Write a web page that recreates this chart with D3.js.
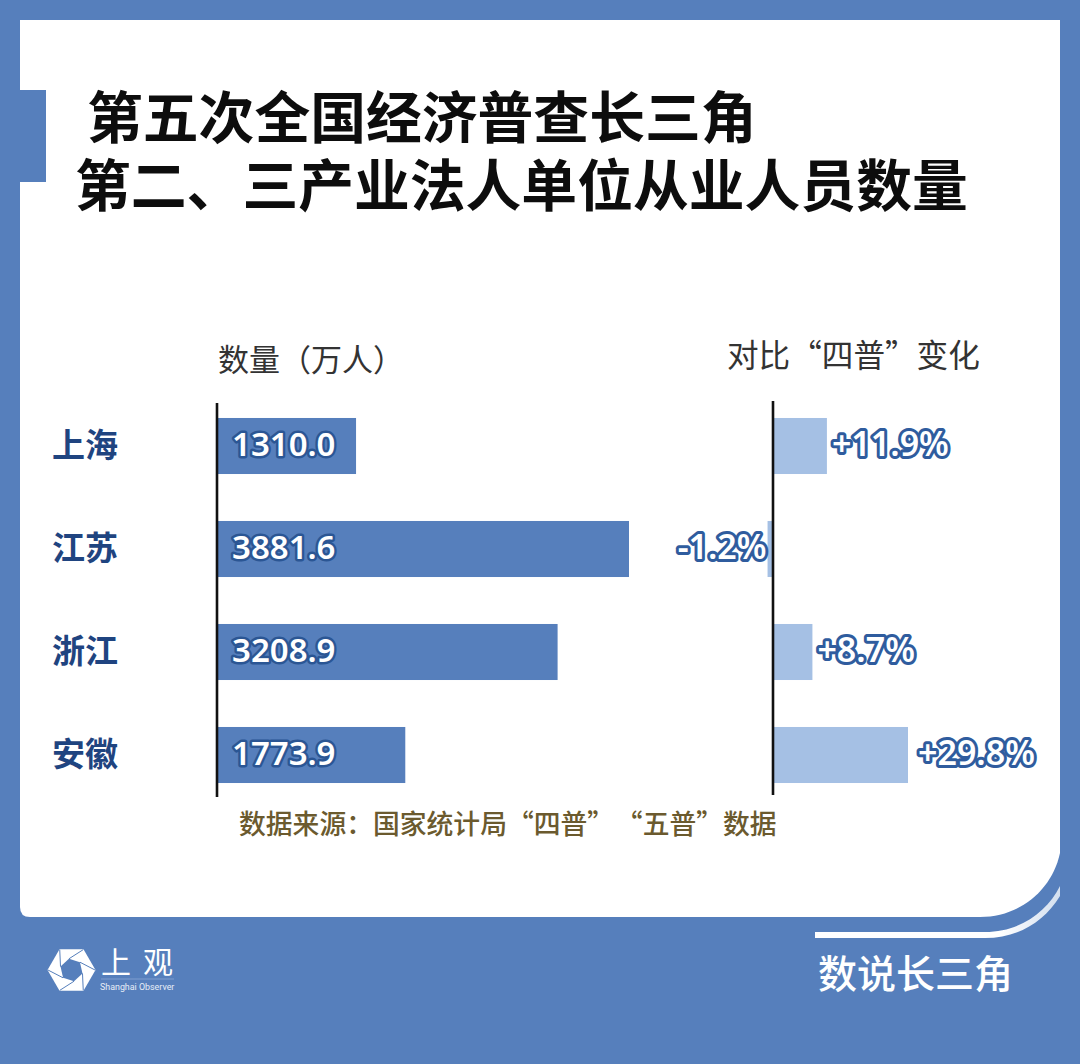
<!DOCTYPE html>
<html lang="zh-CN">
<head>
    <meta charset="UTF-8">
    <title>第五次全国经济普查长三角</title>
    <script src="https://d3js.org/d3.v7.min.js"></script>
    <style>
        html, body { margin: 0; padding: 0; background: #567fbc; }
        svg { display: block; }
        text { font-family: "Noto Sans CJK SC", "Noto Sans", sans-serif; }
        .domain { stroke: #111; stroke-width: 2.6px; }
        .tick line { display: none; }
        .tick text { font-size: 33px; font-weight: 700; fill: #1f4480; font-family: "Noto Sans CJK SC"; }
        .value { font-family: "Noto Sans", sans-serif; font-size: 33px; font-weight: 600; paint-order: stroke; stroke-linejoin: round; fill: #fff; }
        .change-label { font-size: 34px; }
    </style>
</head>
<body>
    <svg id="chart" width="1080" height="1064"></svg>

    <script>
        // 数据
        const regions = ["上海", "江苏", "浙江", "安徽"];
        const counts = [1310.0, 3881.6, 3208.9, 1773.9];
        const changes = [11.9, -1.2, 8.7, 29.8];
        const titleLines = ["第五次全国经济普查长三角", "第二、三产业法人单位从业人员数量"];

        const blue = "#567fbc";
        const lightBlue = "#a5c0e4";
        const svg = d3.select("#chart");

        const grad = svg.append("defs").append("linearGradient")
            .attr("id", "arcFade").attr("gradientUnits", "userSpaceOnUse")
            .attr("x1", 1000).attr("x2", 1060).attr("y1", 0).attr("y2", 0);
        grad.append("stop").attr("offset", 0).attr("stop-color", "#fff");
        grad.append("stop").attr("offset", 1).attr("stop-color", "#d3dfef");

        // 白色卡片
        svg.append("rect").attr("width", 1080).attr("height", 1064).attr("fill", blue);
        svg.append("path")
            .attr("fill", "#fff")
            .attr("d", "M20 20H1060V853C1052 890 1020 917 980 917H30Q20 917 20 907Z");
        svg.append("rect").attr("x", 20).attr("y", 90).attr("width", 26).attr("height", 92).attr("fill", blue);

        // 卡片下方的白色弧线
        svg.append("path")
            .attr("fill", "url(#arcFade)")
            .attr("d", "M815 932H985C1020 932 1047 912 1060 886V896C1044 922 1018 938 985 938H815Z");

        // 标题
        svg.selectAll(".title")
            .data(titleLines)
            .enter().append("text")
            .attr("class", "title")
            .attr("x", (d, i) => i === 0 ? 87 : 75)
            .attr("y", (d, i) => i === 0 ? 138 : 206)
            .attr("font-size", 55.8)
            .attr("font-weight", 700)
            .attr("fill", "#0d0d0d")
            .text(d => d);

        // 比例尺
        const y = d3.scaleBand().domain(regions).range([394.5, 806.5]).paddingInner(0.456).paddingOuter(0.228);
        const xCount = d3.scaleLinear().domain([0, 3881.6]).range([217, 629]);
        const xChange = d3.scaleLinear().domain([0, 29.8]).range([773, 908]);
        const zeroX = xChange(0);

        // 左侧柱子
        svg.selectAll(".bar")
            .data(regions)
            .enter().append("rect")
            .attr("class", "bar")
            .attr("x", xCount(0))
            .attr("y", d => y(d))
            .attr("width", (d, i) => xCount(counts[i]) - xCount(0))
            .attr("height", y.bandwidth())
            .attr("fill", blue);

        // 右侧柱子
        svg.selectAll(".change")
            .data(regions)
            .enter().append("rect")
            .attr("class", "change")
            .attr("x", (d, i) => Math.min(xChange(changes[i]), zeroX))
            .attr("y", d => y(d))
            .attr("width", (d, i) => Math.abs(xChange(changes[i]) - zeroX))
            .attr("height", y.bandwidth())
            .attr("fill", lightBlue);

        // 坐标轴
        const leftAxis = svg.append("g")
            .attr("transform", `translate(${xCount(0)},0)`)
            .call(d3.axisLeft(y).tickSize(0).tickPadding(99));
        leftAxis.select(".domain").attr("d", "M0 403V797");
        leftAxis.selectAll(".tick text").attr("dy", "0.34em");

        const rightAxis = svg.append("g")
            .attr("transform", `translate(${zeroX},0)`)
            .call(d3.axisLeft(y).tickSize(0).tickFormat(""));
        rightAxis.select(".domain").attr("d", "M0 401V795");

        // 数值标签
        svg.selectAll(".count-label")
            .data(regions)
            .enter().append("text")
            .attr("class", "value count-label")
            .attr("x", 232)
            .attr("y", d => y(d) + y.bandwidth() / 2)
            .attr("dy", "0.3em")
            .attr("stroke", "#2b5694")
            .attr("stroke-width", 5)
            .text((d, i) => counts[i].toFixed(1));

        svg.selectAll(".change-label")
            .data(regions)
            .enter().append("text")
            .attr("class", "value change-label")
            .attr("x", (d, i) => changes[i] < 0 ? xChange(changes[i]) - 1 : xChange(changes[i]) + (d === "安徽" ? 10 : 5))
            .attr("y", d => y(d) + y.bandwidth() / 2)
            .attr("dy", "0.3em")
            .attr("text-anchor", (d, i) => changes[i] < 0 ? "end" : "start")
            .attr("stroke", "#2f5c9e")
            .attr("stroke-width", 6)
            .text((d, i) => (changes[i] > 0 ? "+" : "") + changes[i] + "%");

        // 列标题和来源
        svg.append("text").attr("x", 218).attr("y", 371).attr("font-size", 31).attr("font-weight", 400)
            .attr("fill", "#333").text("数量（万人）");
        svg.append("text").attr("x", 727).attr("y", 367).attr("font-size", 31.6).attr("font-weight", 400)
            .attr("fill", "#333").text("对比“四普”变化");
        svg.append("text").attr("x", 239).attr("y", 834).attr("font-size", 26.8).attr("font-weight", 500)
            .attr("fill", "#6b5a2e").text("数据来源：国家统计局“四普”\u200A“五普”数据");

        // 上观 logo
        const logo = svg.append("g").attr("transform", "translate(71.5,970)");
        const hexPoints = (r, start) => d3.range(6).map(i => {
            const a = start + i * Math.PI / 3;
            return [r * Math.cos(a), r * Math.sin(a)];
        });
        const outer = hexPoints(24, 0);
        const inner = hexPoints(11.5, 0.3);
        logo.append("polygon").attr("points", outer.join(" ")).attr("fill", "#fff");
        logo.append("polygon").attr("points", inner.join(" ")).attr("fill", blue);
        logo.selectAll("line")
            .data(d3.range(6))
            .enter().append("line")
            .attr("x1", i => inner[i][0])
            .attr("y1", i => inner[i][1])
            .attr("x2", i => outer[(i + 1) % 6][0] * 0.98)
            .attr("y2", i => outer[(i + 1) % 6][1] * 0.98)
            .attr("stroke", blue)
            .attr("stroke-width", 1);

        svg.append("text").attr("x", 101).attr("y", 973).attr("font-size", 30).attr("font-weight", 400)
            .attr("letter-spacing", 12).attr("fill", "#fff").text("上观");
        svg.append("line").attr("x1", 101).attr("x2", 174).attr("y1", 979).attr("y2", 979)
            .attr("stroke", "#8fadd8").attr("stroke-width", 0.7);
        svg.append("text").attr("x", 100).attr("y", 990)
            .style("font-family", "Roboto").style("font-size", "8.9px")
            .attr("fill", "#e6edf7").text("Shanghai Observer");

        // 栏目名
        svg.append("text").attr("x", 818).attr("y", 988).attr("font-size", 39).attr("font-weight", 500)
            .attr("fill", "#fff").text("数说长三角");
    </script>
</body>
</html>
